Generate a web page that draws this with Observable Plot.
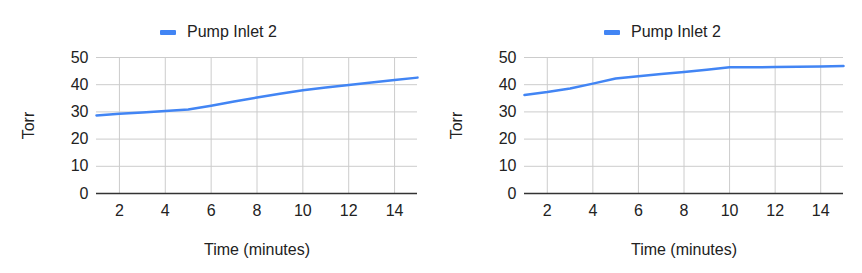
<!DOCTYPE html>
<html><head><meta charset="utf-8">
<script src="https://cdn.jsdelivr.net/npm/d3@7"></script>
<script src="https://cdn.jsdelivr.net/npm/@observablehq/plot@0.6"></script>
<style>
body{margin:0;background:#fff;font-family:Arial,"Liberation Sans",sans-serif;}
#wrap{display:flex;width:862px;height:273px;}
.panel{position:relative;width:431px;height:273px;}
.legend{position:absolute;top:23px;height:18px;font-size:16px;color:#222;display:flex;align-items:center;}
.legend .sw{width:16px;height:5px;background:#4285F4;border-radius:1px;margin-right:11px;}
.panel svg{position:absolute;top:0;left:0;}
</style></head>
<body><div id="wrap"></div>
<script>
const minutes = [1,2,3,4,5,6,7,8,9,10,11,12,13,14,15];
const seriesName = "Pump Inlet 2";
const torrLeft  = [28.7,29.3,29.8,30.3,30.9,32.3,33.8,35.3,36.7,38.0,39.0,39.9,40.8,41.7,42.6];
const torrRight = [36.2,37.3,38.6,40.4,42.3,43.1,43.9,44.7,45.5,46.4,46.4,46.5,46.6,46.7,46.9];
const xTicks = [2,4,6,8,10,12,14];
const yTicks = [0,10,20,30,40,50];
const xLabel = "Time (minutes)";
const yLabel = "Torr";

function panel(values, ml, mr, legendLeft){
  const data = minutes.map((m,i)=>({m, v: values[i]}));
  const div = document.createElement("div");
  div.className = "panel";
  const plot = Plot.plot({
    width: 431, height: 273,
    marginTop: 57, marginBottom: 80, marginLeft: ml, marginRight: mr,
    style: {fontFamily: 'Arial, "Liberation Sans", sans-serif', fontSize: "16px", color: "#222", background: "#fff"},
    x: {domain: [1,15], ticks: xTicks},
    y: {domain: [0,50], ticks: yTicks},
    marks: [
      Plot.gridX(xTicks, {stroke: "#ccc", strokeOpacity: 1, strokeWidth: 1}),
      Plot.gridY(yTicks.filter(d=>d>0), {stroke: "#ccc", strokeOpacity: 1, strokeWidth: 1}),
      Plot.axisX({ticks: xTicks, tickSize: 0, tickPadding: 11, label: xLabel, labelAnchor: "center", labelArrow: "none", labelOffset: 61, fill: "#222"}),
      Plot.axisY({ticks: yTicks, tickSize: 0, tickPadding: 8, label: yLabel, labelAnchor: "center", labelArrow: "none", labelOffset: 74, fill: "#222"}),
      Plot.ruleY([0], {stroke: "#333", strokeWidth: 1.3}),
      Plot.line(data, {x: "m", y: "v", stroke: "#4285F4", strokeWidth: 2.5})
    ]
  });
  div.appendChild(plot);
  const lg = document.createElement("div");
  lg.className = "legend";
  lg.style.left = legendLeft + "px";
  lg.innerHTML = '<div class="sw"></div><span></span>';
  lg.querySelector("span").textContent = seriesName;
  div.appendChild(lg);
  return div;
}
const wrap = document.getElementById("wrap");
wrap.appendChild(panel(torrLeft, 96, 14, 160));
wrap.appendChild(panel(torrRight, 93, 19, 173));
</script></body></html>
